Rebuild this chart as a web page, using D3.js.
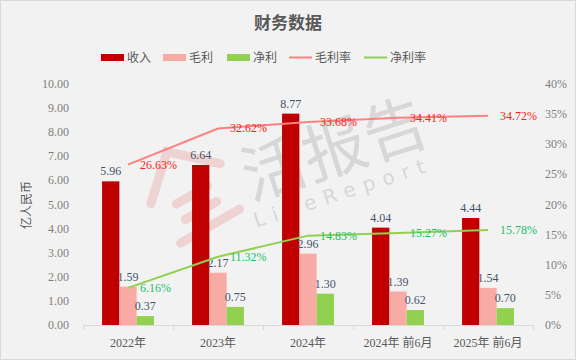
<!DOCTYPE html>
<html><head><meta charset="utf-8">
<script src="https://cdn.jsdelivr.net/npm/d3@7"></script>
<style>
html,body{margin:0;padding:0;background:#fff;}
svg{display:block;}
</style></head>
<body>
<svg id="c" width="576" height="360"></svg>
<script>
const categories = ["2022年","2023年","2024年","2024年 前6月","2025年 前6月"];
const revenue = [5.96, 6.64, 8.77, 4.04, 4.44];
const grossProfit = [1.59, 2.17, 2.96, 1.39, 1.54];
const netProfit = [0.37, 0.75, 1.30, 0.62, 0.70];
const grossRate = [26.63, 32.62, 33.68, 34.41, 34.72];
const netRate = [6.16, 11.32, 14.83, 15.27, 15.78];
const leftTicks = [0,1,2,3,4,5,6,7,8,9,10];
const rightTicks = [0,5,10,15,20,25,30,35,40];
const seriesNames = ["收入","毛利","净利","毛利率","净利率"];

(function(){
const colors = {rev:"#c00000", gross:"#f8aba4", net:"#92d050", grossLine:"#ff8080", netLine:"#92d050"};
const FONT = "'Liberation Serif','Times New Roman','Noto Sans CJK SC',serif";

const svg = d3.select("#c");
svg.append("rect").attr("x",0.5).attr("y",0.5).attr("width",575).attr("height",359)
  .attr("fill","#f2f2f2").attr("stroke","#d9d9d9");

const pLeft=83, pRight=533, pTop=84, pBottom=325;
const x = d3.scaleBand().domain(categories).range([pLeft,pRight]);
const y = d3.scaleLinear().domain([0,10]).range([pBottom,pTop]);
const y2 = d3.scaleLinear().domain([0,40]).range([pBottom,pTop]);
const bw = 17.3;

// watermark
const wm = svg.append("g").attr("transform","translate(335,150) rotate(-18)").attr("opacity",0.2);
wm.append("text").attr("x",0).attr("y",22).attr("text-anchor","middle")
  .attr("font-family","'Noto Sans CJK SC',sans-serif").attr("font-size",64).attr("font-weight",400)
  .attr("fill","#6f6f6f").text("活报告");
const wm2 = svg.append("g").attr("transform","translate(343,192) rotate(-18)").attr("opacity",0.2);
wm2.append("text").attr("x",0).attr("y",7).attr("text-anchor","middle")
  .attr("font-family","'DejaVu Sans',sans-serif").attr("font-size",20).attr("letter-spacing",8)
  .attr("fill","#6f6f6f").text("LiveReport");
const logo = svg.append("g").attr("transform","translate(188,188) rotate(-30)").attr("opacity",0.16)
  .attr("fill","none").attr("stroke","#e03030").attr("stroke-width",9).attr("stroke-linecap","round");
logo.append("path").attr("d","M-40,-5 L0,-42 L40,-5");
logo.append("path").attr("d","M-18,8 L18,8");
logo.append("path").attr("d","M-18,26 L18,26");
logo.append("path").attr("d","M-34,44 L34,44");

// title
svg.append("text").attr("x",288).attr("y",29).attr("text-anchor","middle")
  .attr("font-family","'Noto Sans CJK SC',serif").attr("font-size",17).attr("font-weight","bold")
  .attr("fill","#595959").text("财务数据");

// legend
const legendX = [101,163,227,289,364];
const lg = svg.append("g").attr("font-family",FONT).attr("font-size",12).attr("fill","#595959");
const legColors = [colors.rev, colors.gross, colors.net, colors.grossLine, colors.netLine];
seriesNames.forEach((n,i)=>{
  if(i<3){
    lg.append("rect").attr("x",legendX[i]).attr("y",54).attr("width",23).attr("height",7).attr("fill",legColors[i]);
  } else {
    lg.append("line").attr("x1",legendX[i]).attr("x2",legendX[i]+23).attr("y1",57.5).attr("y2",57.5)
      .attr("stroke",legColors[i]).attr("stroke-width",2);
  }
  lg.append("text").attr("x",legendX[i]+26).attr("y",62).text(n);
});

// axes
const axL = svg.append("g").attr("font-family",FONT).attr("font-size",12).attr("fill","#7f7f7f");
leftTicks.forEach(t=>{
  axL.append("text").attr("x",69).attr("y",y(t)+4).attr("text-anchor","end").text(d3.format(".2f")(t));
});
const axR = svg.append("g").attr("font-family",FONT).attr("font-size",12).attr("fill","#7f7f7f");
rightTicks.forEach(t=>{
  axR.append("text").attr("x",545).attr("y",y2(t)+4).attr("text-anchor","start").text(t+"%");
});
svg.append("text").attr("transform",`translate(31,${205}) rotate(-90)`).attr("text-anchor","middle")
  .attr("font-family","'Noto Sans CJK SC',sans-serif").attr("font-size",12).attr("fill","#595959").text("亿人民币");

const xAxis = d3.axisBottom(x).tickSize(0).tickSizeOuter(0);
const gx = svg.append("g").attr("transform",`translate(0,${pBottom})`).call(xAxis);
gx.select(".domain").attr("stroke","#d9d9d9");
gx.selectAll("text").attr("font-family",FONT).attr("font-size",12).attr("fill","#595959").attr("dy","1.55em");
const tickPos = categories.map(c=>x(c)).concat([pRight]);
tickPos.forEach(p=>{
  svg.append("line").attr("x1",p+0.5).attr("x2",p+0.5).attr("y1",pBottom).attr("y2",pBottom+5).attr("stroke","#d9d9d9");
});

// bars
const barSeries = [[revenue,colors.rev,-1],[grossProfit,colors.gross,0],[netProfit,colors.net,1]];
const bars = svg.append("g");
const labels = svg.append("g").attr("font-family",FONT).attr("font-size",12).attr("fill","#44546a").attr("text-anchor","middle");
barSeries.forEach(([vals,col,off])=>{
  categories.forEach((c,i)=>{
    const cx = x(c)+x.bandwidth()/2 + off*bw;
    bars.append("rect").attr("x",cx-bw/2).attr("width",bw).attr("y",y(vals[i])).attr("height",pBottom-y(vals[i])).attr("fill",col);
    labels.append("text").attr("x",cx).attr("y",y(vals[i])-6).text(d3.format(".2f")(vals[i]));
  });
});

// lines
const line = d3.line().x((d,i)=>x(categories[i])+x.bandwidth()/2).y(d=>y2(d));
svg.append("path").datum(grossRate).attr("d",line).attr("fill","none").attr("stroke",colors.grossLine).attr("stroke-width",2);
svg.append("path").datum(netRate).attr("d",line).attr("fill","none").attr("stroke",colors.netLine).attr("stroke-width",2);
const rl = svg.append("g").attr("font-family",FONT).attr("font-size",12);
[[grossRate,"#ff2020"],[netRate,"#1fbf6a"]].forEach(([vals,col])=>{
  vals.forEach((v,i)=>{
    rl.append("text").attr("x",x(categories[i])+x.bandwidth()/2+12).attr("y",y2(v)+4).attr("fill",col).text(v.toFixed(2)+"%");
  });
});
})();
</script>
</body></html>
